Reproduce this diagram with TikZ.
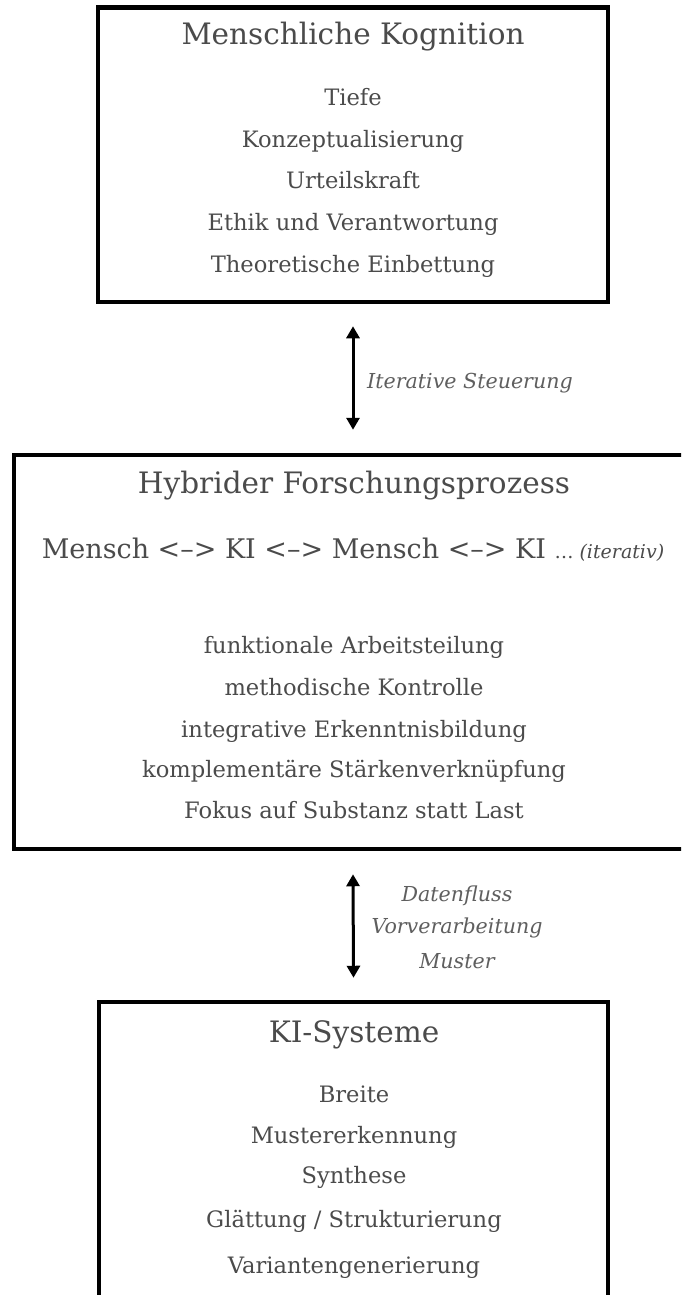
\documentclass[tikz,border=0pt]{standalone}
\usepackage{fontspec}
\setmainfont{DejaVu Serif}
\usetikzlibrary{arrows.meta}
\definecolor{txt}{RGB}{75,75,75}
\definecolor{lbltxt}{RGB}{95,95,95}
\begin{document}
\begin{tikzpicture}[x=1pt,y=-1pt,
  title/.style={anchor=base,text=txt,font=\fontsize{29.5}{34}\selectfont,inner sep=0},
  item/.style={anchor=base,text=txt,font=\fontsize{22.6}{27}\selectfont,inner sep=0},
  lbl/.style={anchor=base,text=lbltxt,font=\fontsize{20.6}{24}\selectfont\itshape,inner sep=0},
  frame/.style={draw=black,line width=4.5pt,inner sep=0,fill=none},
  dblarrow/.style={line width=3pt,{Triangle[width=13pt,length=12pt]}-{Triangle[width=13pt,length=12pt]}}]
\useasboundingbox (0,0) rectangle (681,1295);
\clip (0,0) rectangle (681,1295);
\fill[white] (0,0) rectangle (681,1295);
% frames
\node[frame,minimum width=510pt,minimum height=294.5pt] (hum) at (353,154.75) {};
\node[frame,minimum width=678pt,minimum height=394pt] (hyb) at (353,652) {};
\node[frame,minimum width=509pt,minimum height=318pt] (ki) at (353.5,1161) {};
% top box
\node[title] (humT) at (353,45) {Menschliche Kognition};
\node[item] (h1) at (353,106) {Tiefe};
\node[item] (h2) at (353,147) {Konzeptualisierung};
\node[item] (h3) at (353,188) {Urteilskraft};
\node[item] (h4) at (353,230) {Ethik und Verantwortung};
\node[item] (h5) at (353,272) {Theoretische Einbettung};
% middle box
\node[title] (hybT) at (354,493) {Hybrider Forschungsprozess};
\node[title,font=\fontsize{27}{32}\selectfont] (hybL) at (353,558) {Mensch <–> KI <–> Mensch <–> KI {\fontsize{19}{22}\selectfont …\ \textit{(iterativ)}}};
\node[item] (m1) at (354,653) {funktionale Arbeitsteilung};
\node[item] (m2) at (354,695) {methodische Kontrolle};
\node[item] (m3) at (354,737) {integrative Erkenntnisbildung};
\node[item] (m4) at (354,777) {komplementäre Stärkenverknüpfung};
\node[item] (m5) at (354,818) {Fokus auf Substanz statt Last};
% bottom box
\node[title] (kiT) at (354,1042) {KI-Systeme};
\node[item] (k1) at (354,1102) {Breite};
\node[item] (k2) at (354,1143) {Mustererkennung};
\node[item] (k3) at (354,1183) {Synthese};
\node[item] (k4) at (354,1227) {Glättung / Strukturierung};
\node[item] (k5) at (354,1273) {Variantengenerierung};
% arrows
\draw[dblarrow] ([yshift=-22pt]hum.south) -- ([yshift=23pt]hyb.north);
\node[lbl,anchor=base west] (l1) at (367,388) {Iterative Steuerung};
\draw[dblarrow] ([yshift=-23pt]hyb.south) -- ([yshift=22pt]ki.north);
\node[lbl] (l2a) at (457,901) {Datenfluss};
\node[lbl] (l2b) at (457,933) {Vorverarbeitung};
\node[lbl] (l2c) at (457,968) {Muster};
\end{tikzpicture}
\end{document}
